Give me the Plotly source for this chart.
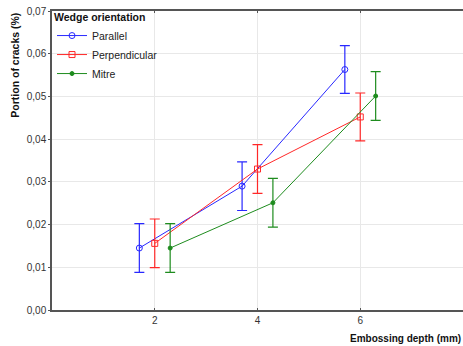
import plotly.graph_objects as go

# Data
depth = [2, 4, 6]
offsets = {"Parallel": -0.3, "Perpendicular": 0.0, "Mitre": 0.3}
parallel = [0.0145, 0.0290, 0.0563]
parallel_err = [0.0057, 0.0057, 0.0056]
perpendicular = [0.0156, 0.0330, 0.0452]
perpendicular_err = [0.0057, 0.0057, 0.0056]
mitre = [0.0145, 0.0251, 0.0501]
mitre_err = [0.0057, 0.0057, 0.0057]

series = [
    ("Parallel", parallel, parallel_err, "rgb(40,40,255)", dict(symbol="circle-open", size=6)),
    ("Perpendicular", perpendicular, perpendicular_err, "rgb(255,40,40)", dict(symbol="square-open", size=6)),
    ("Mitre", mitre, mitre_err, "rgb(30,140,30)", dict(symbol="circle", size=4)),
]

fig = go.Figure()
for name, vals, errs, color, mk in series:
    xs = [d + offsets[name] for d in depth]
    fig.add_trace(go.Scatter(
        x=xs, y=vals, name=name, mode="lines+markers",
        line=dict(color=color, width=1),
        marker=dict(color=color, line=dict(color=color, width=1), **mk),
        error_y=dict(type="data", array=errs, visible=True, color=color,
                     thickness=1.2, width=5),
    ))

font = "Liberation Sans, Arial, sans-serif"
fig.update_layout(
    width=463, height=346,
    margin=dict(l=52, r=0, t=11, b=36),
    paper_bgcolor="white", plot_bgcolor="white",
    separators=", ",
    font=dict(family=font, size=10, color="#333"),
    showlegend=True,
    legend=dict(
        x=0.0, y=1.012, xanchor="left", yanchor="top",
        bgcolor="rgba(0,0,0,0)",
        title=dict(text="<b>Wedge orientation</b>", font=dict(size=10.5, color="#111")),
        font=dict(size=10.5, color="#222"),
        tracegroupgap=0,
    ),
    xaxis=dict(
        range=[0, 8], tickvals=[2, 4, 6], ticktext=["2", "4", "6"],
        showgrid=True, gridcolor="#e8e8e8", gridwidth=1,
        showline=True, linecolor="#555", linewidth=1.5, mirror="ticks",
        ticks="inside", ticklen=2, tickcolor="#555",
        zeroline=False, tickfont=dict(size=10, color="#333"),
    ),
    yaxis=dict(
        range=[0, 0.07], dtick=0.01, tickformat=".2f",
        showgrid=True, gridcolor="#e8e8e8", gridwidth=1,
        showline=True, linecolor="#555", linewidth=1.5,
        ticks="outside", ticklen=2, tickcolor="#555",
        zeroline=False, tickfont=dict(size=10, color="#333"),
    ),
    annotations=[
        dict(text="<b>Embossing depth (mm)</b>", xref="paper", yref="paper",
             x=1.0, y=-0.095, xanchor="right", yanchor="middle", showarrow=False,
             font=dict(size=10, color="#111")),
        dict(text="<b>Portion of cracks (%)</b>", xref="paper", yref="paper",
             x=-0.092, y=1.0, xanchor="center", yanchor="top", textangle=-90,
             showarrow=False, font=dict(size=10.5, color="#111")),
    ],
)

fig.write_html(
    "out.html",
    config={"displayModeBar": False},
    post_script="document.body.style.margin='0';document.body.style.overflow='hidden';",
)
